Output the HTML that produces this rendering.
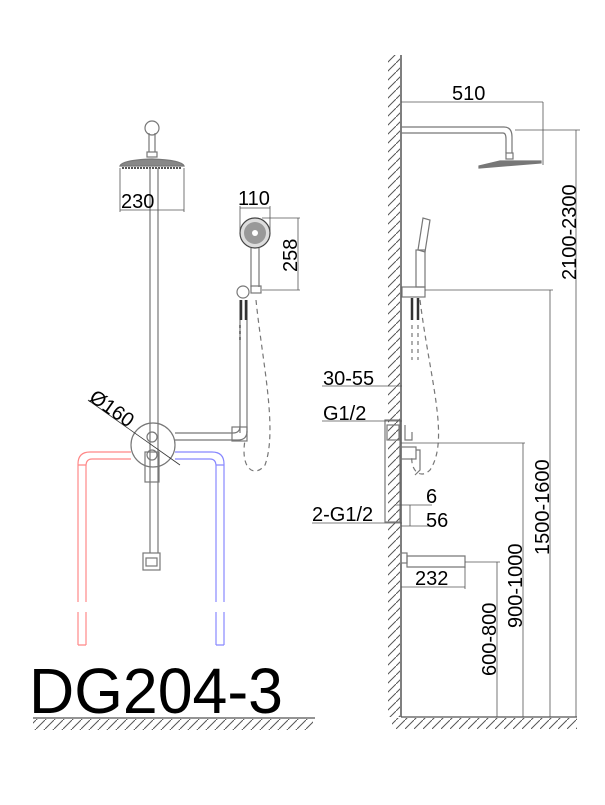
<!DOCTYPE html>
<html><head><meta charset="utf-8"><style>body{margin:0;background:#fff}svg{display:block}text{font-family:"Liberation Sans",Arial,sans-serif;fill:#000}</style></head><body>
<svg width="605" height="805" viewBox="0 0 605 805" xmlns="http://www.w3.org/2000/svg">
<defs>
<pattern id="hv" width="9" height="9" patternUnits="userSpaceOnUse"><path d="M0 9 L9 0" stroke="#555" stroke-width="1"/></pattern>
</defs>
<g fill="none" stroke="#777" stroke-width="1.2">
<line x1="33" y1="718" x2="315" y2="718" stroke="#555"/>
<rect x="33" y="719" width="280" height="11" fill="url(#hv)" stroke="none"/>
<circle cx="152" cy="128" r="7"/>
<path d="M149 133 V152 M155 133 V152"/>
<rect x="147" y="152" width="10" height="5"/>
<path d="M120 166 Q122 160 152 159 Q182 160 184 166 Z" fill="#888"/>
<path d="M122 168 H182" stroke="#555" stroke-width="2" stroke-dasharray="2 1"/>
<path d="M150 168 V553 M158 168 V553"/>
<rect x="143" y="553" width="17" height="17"/><rect x="146" y="558" width="11" height="8"/>
<path d="M120 168 V212 M184 168 V212 M120 210 H184" stroke="#555" stroke-width="0.8"/>
<circle cx="255" cy="233" r="15" fill="#ddd" stroke="#444"/>
<circle cx="255" cy="233" r="11" fill="#999" stroke="none"/>
<circle cx="255" cy="233" r="3" fill="#fff" stroke="none"/>
<path d="M251 248 V287 M259 248 V287"/>
<rect x="251" y="286" width="10" height="7"/>
<circle cx="243" cy="292" r="6"/>
<path d="M240 433 V300 M247 433 V300" />
<path d="M241 300 V320 M246 300 V320" stroke="#333" stroke-width="2.5"/>
<path d="M240 325 V340" stroke="#333" stroke-dasharray="3 3"/>
<path d="M240 233 V206 M270 233 V206 M240 208 H270" stroke="#555" stroke-width="0.8"/>
<path d="M262 218 H300 M262 290 H300 M298 218 V290" stroke="#555" stroke-width="0.8"/>
<path d="M256 300 C262 360 278 430 265 465 C255 478 240 470 245 440" stroke="#777" stroke-dasharray="5 4"/>
<path d="M175 433 H233 Q240 433 240 426 M175 440 H238 Q247 440 247 431"/>
<rect x="232" y="427" width="15" height="14"/>
<circle cx="153" cy="445" r="22"/>
<circle cx="152" cy="437" r="5"/>
<rect x="145" y="452" width="14" height="30"/>
<circle cx="152" cy="455" r="5"/>
<path d="M88 400 L180 465" stroke="#333" stroke-width="0.8"/>
<g stroke="#f88">
<path d="M131 452 H90 Q78 452 78 464 V602 M131 459 H92 Q86 459 86 466 V602"/>
<path d="M78 465 H86 M78 612 V645 M86 612 V645 M78 645 H86"/>
</g>
<g stroke="#88f">
<path d="M175 452 H212 Q224 452 224 464 V602 M175 459 H210 Q216 459 216 466 V602"/>
<path d="M216 465 H224 M216 612 V645 M224 612 V645 M216 645 H224"/>
</g>
<line x1="401" y1="55" x2="401" y2="717" stroke="#555" stroke-width="1.5"/>
<rect x="388" y="55" width="12" height="662" fill="url(#hv)" stroke="none"/>
<line x1="401" y1="717" x2="577" y2="717" stroke="#555"/>
<rect x="392" y="718" width="185" height="11" fill="url(#hv)" stroke="none"/>
<path d="M401 127 H504 Q512 127 512 137 V153 M401 133 H503 Q506 133 506 139 V153"/>
<rect x="506" y="153" width="7" height="6"/>
<path d="M479 168 L541 163 L541 161 L500 161 L479 166 Z" fill="#777"/>
<path d="M401 102 H543 M543 102 V165" stroke="#555" stroke-width="0.8"/>
<path d="M515 130 H580 M576 130 V717" stroke="#555" stroke-width="0.8"/>
<path d="M418 250 L423 218 L430 220 L425 252 Z"/>
<rect x="416" y="250" width="9" height="37"/>
<rect x="402" y="287" width="23" height="10"/>
<path d="M412 298 V320 M418 298 V320" stroke="#333" stroke-width="2.5"/>
<path d="M412 325 V360 M418 325 V360" stroke="#777" stroke-dasharray="4 4"/>
<path d="M420 300 C430 380 450 440 430 470 C420 480 410 470 412 455" stroke="#777" stroke-dasharray="5 4"/>
<path d="M425 290 H553 M550 290 V717" stroke="#555" stroke-width="0.8"/>
<rect x="385" y="420" width="15" height="102"/>
<rect x="387" y="425" width="12" height="15"/>
<rect x="400" y="447" width="16" height="12"/>
<path d="M416 450 H420 V470 L415 475 M405 425 V440 H412 V432"/>
<path d="M401 443 H525 M523 443 V717" stroke="#555" stroke-width="0.8"/>
<path d="M322 386 H402 M322 421 H402 M312 523 H402 M395 505 H432 M401 526 H432 M410 505 V526" stroke="#555" stroke-width="0.8"/>
<rect x="401" y="553" width="6" height="10"/>
<path d="M407 556 H465 V567 H407 Z"/>
<path d="M401 587 H465 M465 567 V589" stroke="#555" stroke-width="0.8"/>
<path d="M465 562 H500 M497 562 V717" stroke="#555" stroke-width="0.8"/>
</g>
<g font-size="20">
<text x="121" y="208">230</text>
<text x="238" y="205">110</text>
<text transform="translate(297,272) rotate(-90)">258</text>
<text transform="translate(88,400) rotate(35)">Ø160</text>
<text x="452" y="100">510</text>
<text x="323" y="385">30-55</text>
<text x="323" y="420">G1/2</text>
<text x="312" y="521">2-G1/2</text>
<text x="426" y="503">6</text>
<text x="426" y="527">56</text>
<text x="415" y="585">232</text>
<text transform="translate(496,676) rotate(-90)">600-800</text>
<text transform="translate(522,628) rotate(-90)">900-1000</text>
<text transform="translate(549,555) rotate(-90)">1500-1600</text>
<text transform="translate(576,280) rotate(-90)">2100-2300</text>
</g>
<text x="29" y="713" font-size="64" textLength="254" lengthAdjust="spacingAndGlyphs">DG204-3</text>
</svg>
</body></html>
